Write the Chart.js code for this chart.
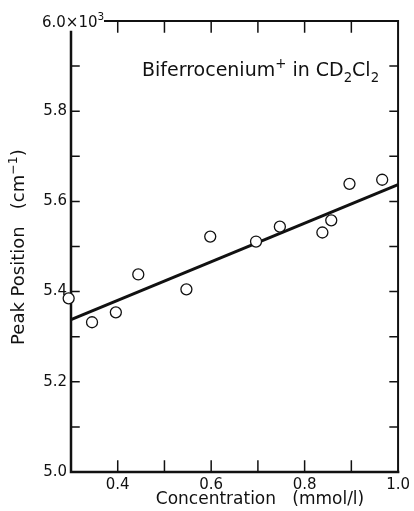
<!DOCTYPE html>
<html>
<head>
<meta charset="utf-8">
<script src="https://cdn.jsdelivr.net/npm/chart.js@4"></script>
<style>
  html, body { margin: 0; padding: 0; background: #fff; }
</style>
</head>
<body>
<canvas id="c" width="414" height="511"></canvas>
<script>
// measured points: concentration (mmol/l) vs. peak position (10^3 cm-1)
const concentration = [0.295, 0.345, 0.396, 0.444, 0.547, 0.598, 0.696, 0.747, 0.838, 0.857, 0.896, 0.966];
const peakPosition  = [5.385, 5.332, 5.354, 5.438, 5.405, 5.522, 5.511, 5.544, 5.531, 5.558, 5.639, 5.648];

// least-squares line end points
const fitConcentration = [0.3, 1.0];
const fitPeak = [5.338, 5.637];

const xTickLabels = ['0.4', '0.6', '0.8', '1.0'];
const yTickLabels = ['5.0', '5.2', '5.4', '5.6', '5.8'];

const FONT = '"DejaVu Sans", sans-serif';
const INK = '#111';

// draws text pieces with sub/superscripts, returns total width
function richText(ctx, parts, x, y, size, measureOnly) {
  let cx = x;
  parts.forEach(p => {
    const s = (p.sub || p.sup) ? size * 0.7 : size;
    ctx.font = s + 'px ' + FONT;
    const dy = p.sub ? size * 0.3 : p.sup ? -size * 0.4 : 0;
    if (!measureOnly) ctx.fillText(p.t, cx, y + dy);
    cx += ctx.measureText(p.t).width;
  });
  return cx - x;
}

const framePlugin = {
  id: 'frame',
  beforeDatasetsDraw(chart) {
    const {ctx, chartArea: a, scales: {x, y}} = chart;
    ctx.save();
    ctx.strokeStyle = INK;
    ctx.lineCap = 'square';

    // box
    ctx.lineWidth = 2.5;
    ctx.beginPath();
    ctx.moveTo(a.left, a.top + 11);
    ctx.lineTo(a.left, a.bottom);
    ctx.lineTo(a.right, a.bottom);
    ctx.stroke();
    ctx.lineWidth = 2;
    ctx.beginPath();
    ctx.moveTo(a.left + 34, a.top);
    ctx.lineTo(a.right, a.top);
    ctx.lineTo(a.right, a.bottom);
    ctx.stroke();

    // inward tick marks
    ctx.lineWidth = 1.5;
    ctx.beginPath();
    for (let i = 4; i <= 9; i++) {
      const px = x.getPixelForValue(i / 10);
      ctx.moveTo(px, a.bottom); ctx.lineTo(px, a.bottom - 11);
      ctx.moveTo(px, a.top); ctx.lineTo(px, a.top + 11);
    }
    for (let i = 1; i <= 9; i++) {
      const py = y.getPixelForValue(5 + i / 10);
      ctx.moveTo(a.left, py); ctx.lineTo(a.left + 8, py);
      ctx.moveTo(a.right, py); ctx.lineTo(a.right - 8, py);
    }
    ctx.stroke();

    ctx.fillStyle = INK;
    ctx.textBaseline = 'middle';

    // top value with exponent
    ctx.textAlign = 'left';
    richText(ctx, [{t: '6.0×10'}, {t: '3', sup: true}], a.left - 29, y.getPixelForValue(6) + 2, 15);

    // annotation
    ctx.textBaseline = 'alphabetic';
    richText(ctx, [
      {t: 'Biferrocenium'}, {t: '+', sup: true}, {t: ' in CD'}, {t: '2', sub: true},
      {t: 'Cl'}, {t: '2', sub: true}
    ], a.left + 71, a.top + 55, 19);

    // axis titles
    const xt = [{t: 'Concentration   (mmol/l)'}];
    const xw = richText(ctx, xt, 0, 0, 17, true);
    richText(ctx, xt, 260 - xw / 2, 504, 17);

    const yt = [{t: 'Peak Position   (cm'}, {t: '−1', sup: true}, {t: ')'}];
    const yw = richText(ctx, yt, 0, 0, 18, true);
    ctx.translate(24, 247);
    ctx.rotate(-Math.PI / 2);
    richText(ctx, yt, -yw / 2, 0, 18);
    ctx.restore();
  }
};

new Chart(document.getElementById('c'), {
  type: 'scatter',
  data: {
    datasets: [
      {
        type: 'scatter',
        data: concentration.map((c, i) => ({x: c, y: peakPosition[i]})),
        pointStyle: 'circle',
        pointRadius: 5.5,
        pointBorderWidth: 1.3,
        borderColor: INK,
        backgroundColor: '#fff',
        clip: false,
        order: 1
      },
      {
        type: 'line',
        data: fitConcentration.map((c, i) => ({x: c, y: fitPeak[i]})),
        borderColor: INK,
        borderWidth: 3,
        pointRadius: 0,
        fill: false,
        clip: false,
        order: 2
      }
    ]
  },
  options: {
    responsive: false,
    animation: false,
    layout: {padding: {left: 0, right: 14, top: 21, bottom: 0}},
    plugins: {legend: {display: false}, tooltip: {enabled: false}},
    scales: {
      x: {
        type: 'linear',
        min: 0.3,
        max: 1.0,
        grid: {display: false, drawTicks: false},
        border: {display: false},
        afterFit: s => { s.height = 39; },
        ticks: {
          stepSize: 0.1,
          autoSkip: false,
          maxRotation: 0,
          padding: 4,
          color: INK,
          font: {family: FONT, size: 15},
          callback: v => {
            const t = (Math.round(v * 10) / 10).toFixed(1);
            return xTickLabels.includes(t) ? t : '';
          }
        }
      },
      y: {
        min: 5.0,
        max: 6.0,
        grid: {display: false, drawTicks: false},
        border: {display: false},
        afterFit: s => { s.width = 71; },
        ticks: {
          stepSize: 0.1,
          autoSkip: false,
          padding: 4,
          color: INK,
          font: {family: FONT, size: 15},
          callback: v => {
            const t = (Math.round(v * 10) / 10).toFixed(1);
            return yTickLabels.includes(t) ? t : '';
          }
        }
      }
    }
  },
  plugins: [framePlugin]
});
</script>
</body>
</html>
